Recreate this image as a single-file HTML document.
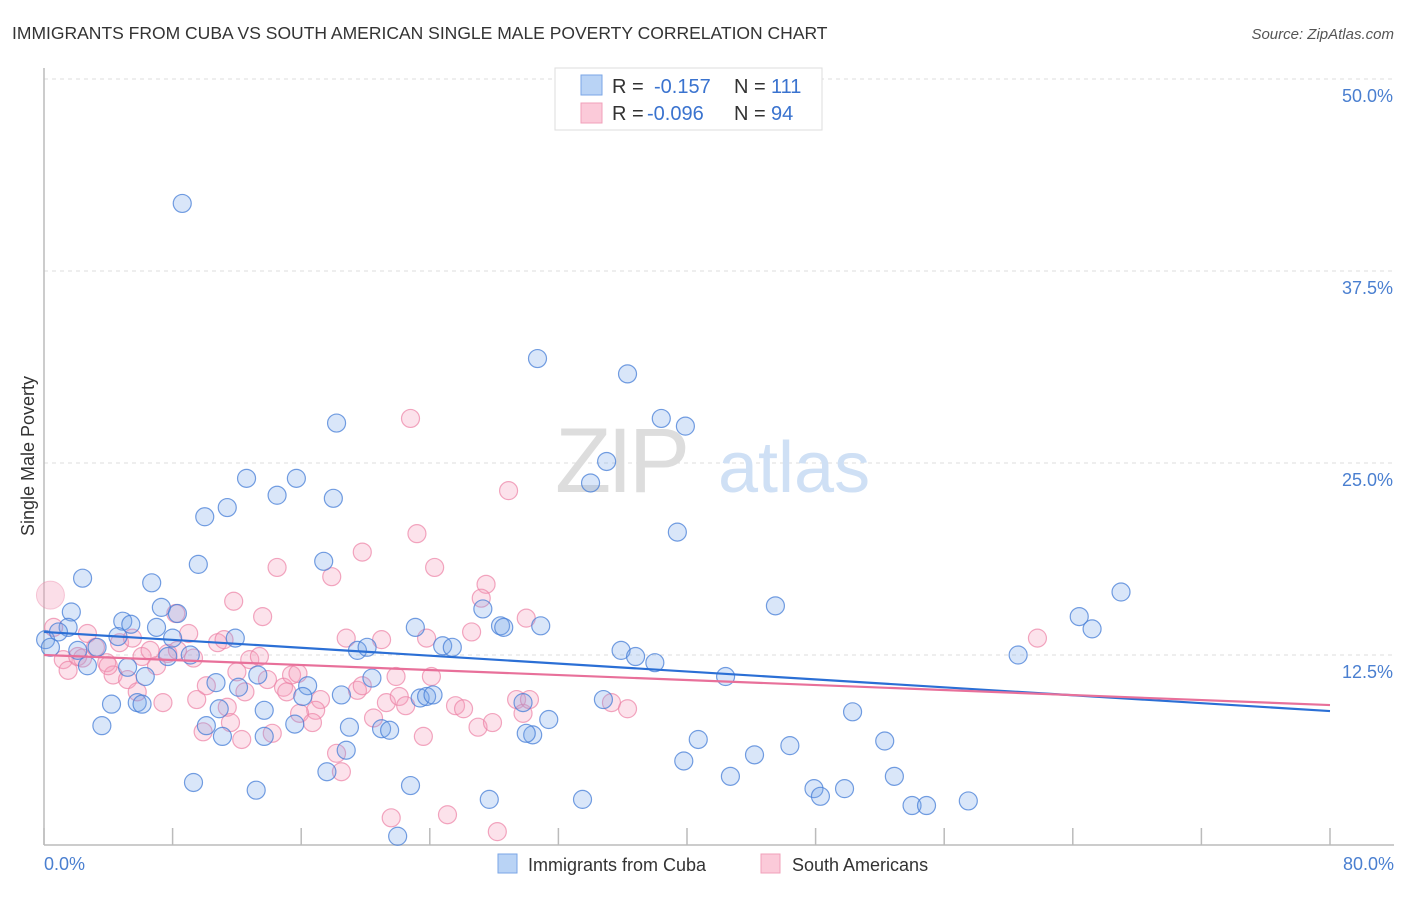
<!DOCTYPE html>
<html><head><meta charset="utf-8"><style>
body{margin:0;background:#fff;font-family:"Liberation Sans",sans-serif;}
svg text{font-family:"Liberation Sans",sans-serif;}
</style></head><body>
<svg id="chart" width="1406" height="892" xmlns="http://www.w3.org/2000/svg">
<text x="12" y="39" font-size="17.5" fill="#333">IMMIGRANTS FROM CUBA VS SOUTH AMERICAN SINGLE MALE POVERTY CORRELATION CHART</text>
<text x="1394" y="39" font-size="15" fill="#555" font-style="italic" text-anchor="end">Source: ZipAtlas.com</text>
<g id="grid"></g>
<g><text x="555" y="492" font-size="92" fill="#ddd" font-family="Liberation Serif" letter-spacing="-4">ZIP</text><text x="718" y="492" font-size="72" fill="#cfe0f5">atlas</text></g>
<line x1="44" y1="68" x2="44" y2="845" stroke="#bbb" stroke-width="1.5"/>
<line x1="44" y1="845" x2="1394" y2="845" stroke="#bbb" stroke-width="1.5"/>
<g id="ticks"></g>
<g id="pts"></g>
<g id="trends"></g>
<text transform="translate(34,456) rotate(-90)" font-size="18" fill="#333" text-anchor="middle">Single Male Poverty</text>
<text x="44" y="870" font-size="18" fill="#4a7fd0">0.0%</text>
<text x="1394" y="870" font-size="18" fill="#4a7fd0" text-anchor="end">80.0%</text>
<g>
<rect x="555" y="68" width="267" height="62" fill="#fff" stroke="#ddd"/>
<rect x="581" y="75" width="21" height="20" fill="#b9d3f5" stroke="#7aa6e6"/>
<rect x="581" y="103" width="21" height="20" fill="#fbcad9" stroke="#f0a0ba"/>
<text x="612" y="93" font-size="20" fill="#333">R =</text><text x="654" y="93" font-size="20" fill="#3a73cf">-0.157</text>
<text x="734" y="93" font-size="20" fill="#333">N =</text><text x="771" y="93" font-size="20" fill="#3a73cf">111</text>
<text x="612" y="120" font-size="20" fill="#333">R =</text><text x="647" y="120" font-size="20" fill="#3a73cf">-0.096</text>
<text x="734" y="120" font-size="20" fill="#333">N =</text><text x="771" y="120" font-size="20" fill="#3a73cf">94</text>
</g>
<g>
<rect x="498" y="854" width="19" height="19" fill="#b9d3f5" stroke="#7aa6e6"/>
<text x="528" y="871" font-size="18" fill="#333">Immigrants from Cuba</text>
<rect x="761" y="854" width="19" height="19" fill="#fbcad9" stroke="#f0a0ba"/>
<text x="792" y="871" font-size="18" fill="#333">South Americans</text>
</g>
</svg>
<script>
const yTicks=[12.5,25,37.5,50];
const yTickLabels=["12.5%","25.0%","37.5%","50.0%"];
const xTicks=[0,8,16,24,32,40,48,56,64,72,80];
const cubaX=[8.6,30.7,36.3,18.2,38.4,39.9,35.0,34.0,12.6,15.7,14.5,18.0,11.4,10.0,39.4,67.0,64.4,65.2,45.5,30.9,35.9,36.8,38.0,42.4,34.8,31.4,30.4,40.7,46.4,44.2,39.8,42.7,52.9,50.3,52.3,47.9,48.3,49.8,54.0,54.9,57.5,33.5,60.6,0.1,2.4,6.7,1.7,7.3,1.5,4.9,5.4,7.0,8.0,4.6,0.9,11.9,8.3,0.4,2.1,3.3,9.1,7.7,5.2,2.7,6.3,13.3,10.7,12.1,16.4,23.1,19.5,20.1,24.8,25.4,27.3,28.4,28.6,18.5,20.4,23.4,23.8,24.2,16.1,4.2,5.8,6.1,10.9,13.7,10.1,11.1,13.7,15.6,19.0,21.0,21.5,3.6,18.8,17.6,9.3,13.2,22.8,27.7,22.0,29.8,30.0,17.4,9.6];
const cubaY=[41.9,31.8,30.8,27.6,27.9,27.4,25.1,23.7,24.0,24.0,22.9,22.7,22.1,21.5,20.5,16.6,15.0,14.2,15.7,14.4,12.8,12.4,12.0,11.1,9.6,8.3,7.3,7.0,6.6,6.0,5.6,4.6,4.6,8.8,6.9,3.8,3.3,3.8,2.7,2.7,3.0,3.1,12.5,13.5,17.5,17.2,15.3,15.6,14.3,14.7,14.5,14.3,13.6,13.7,14.0,13.6,15.2,13.0,12.8,13.0,12.5,12.4,11.7,11.8,11.1,11.2,10.7,10.4,10.5,14.3,12.8,13.0,13.1,13.0,15.5,14.4,14.3,9.9,11.0,9.7,9.8,9.9,9.8,9.3,9.4,9.3,9.0,8.9,7.9,7.2,7.2,8.0,7.8,7.7,7.6,7.9,6.3,4.9,4.2,3.7,4.0,3.1,0.7,9.4,7.4,18.6,18.4];
const saX=[22.8,28.9,23.2,19.8,14.5,17.9,24.3,27.5,27.2,11.8,13.6,30.0,8.2,9.0,2.7,0.6,18.8,21.0,23.8,26.6,10.8,11.2,3.9,4.3,5.2,5.8,7.4,9.5,10.1,12.0,12.8,13.4,13.9,12.5,11.4,9.9,12.3,14.2,14.9,15.4,15.8,15.1,17.2,16.9,15.9,16.7,19.5,19.8,20.5,21.3,21.9,22.1,22.5,24.1,23.6,25.6,26.1,27.0,27.9,29.4,29.8,18.2,18.5,21.6,25.1,28.2,1.2,1.5,2.1,2.4,3.2,4.7,5.5,6.1,6.6,7.0,7.7,8.3,9.3,4.0,11.6,30.2,35.3,36.3,61.8];
const saY=[27.9,23.2,20.4,19.2,18.2,17.6,18.2,17.1,16.2,16.0,15.0,14.9,15.2,13.9,13.9,14.3,13.6,13.5,13.6,14.0,13.3,13.5,12.0,11.2,10.9,10.1,9.4,9.6,10.5,11.4,12.2,12.4,10.9,10.1,9.1,7.5,7.0,7.4,10.4,11.2,11.3,10.1,9.6,8.9,8.7,8.1,10.2,10.5,8.4,9.4,11.1,9.8,9.2,11.1,7.2,9.2,9.0,7.8,8.1,9.6,8.7,6.1,4.9,1.9,2.1,1.0,12.2,11.5,12.4,12.3,13.0,13.3,13.6,12.4,12.8,11.8,12.6,12.8,12.3,11.8,8.1,9.6,9.4,9.0,13.6];
const cubaTrend=[14.0,8.85];
const saTrend=[12.5,9.24];
const saBigX=[0.4], saBigY=[16.4];

const NS="http://www.w3.org/2000/svg";
const X0=44,X1=1330,Y0=847,PPY=192/12.5;
function sx(v){return X0+(X1-X0)*v/80;}
function sy(v){return Y0-v*PPY;}
function mk(tag,attrs,parent){const e=document.createElementNS(NS,tag);for(const k in attrs)e.setAttribute(k,attrs[k]);parent.appendChild(e);return e;}
const grid=document.getElementById('grid');
yTicks.forEach((t,i)=>{
  const l=mk('line',{x1:44,x2:1394,y1:sy(t),y2:sy(t),stroke:'#ddd','stroke-dasharray':'4,4'},grid);
  
  
  const tx=mk('text',{x:1393,y:sy(t)+23,'font-size':18,fill:'#4a7fd0','text-anchor':'end'},grid);
  tx.textContent=yTickLabels[i];
  
  
});
const ticks=document.getElementById('ticks');
xTicks.forEach(t=>{
  const l=mk('line',{x1:sx(t),x2:sx(t),y1:828,y2:845,stroke:'#bbb','stroke-width':1.5},ticks);
  
  
});
const pts=document.getElementById('pts');
saX.forEach((x,i)=>{
  const c=mk('circle',{cx:sx(x),cy:sy(saY[i]),r:9,fill:'rgba(244,160,188,0.3)',stroke:'rgba(236,130,165,0.7)','stroke-width':1.2},pts);
  
  
});
saBigX.forEach((x,i)=>{
  const c=mk('circle',{cx:sx(x),cy:sy(saBigY[i]),r:14,fill:'rgba(244,160,188,0.35)',stroke:'rgba(236,130,165,0.4)'},pts);
  
  
});
cubaX.forEach((x,i)=>{
  const c=mk('circle',{cx:sx(x),cy:sy(cubaY[i]),r:9,fill:'rgba(120,165,235,0.28)',stroke:'rgba(70,125,215,0.75)','stroke-width':1.2},pts);
  
  
});
const tr=document.getElementById('trends');
const t1=mk('line',{x1:sx(0),y1:sy(cubaTrend[0]),x2:sx(80),y2:sy(cubaTrend[1]),stroke:'#2b6fd5','stroke-width':2.2},tr);


const t2=mk('line',{x1:sx(0),y1:sy(saTrend[0]),x2:sx(80),y2:sy(saTrend[1]),stroke:'#e8709a','stroke-width':2.2},tr);


</script>
</body></html>
